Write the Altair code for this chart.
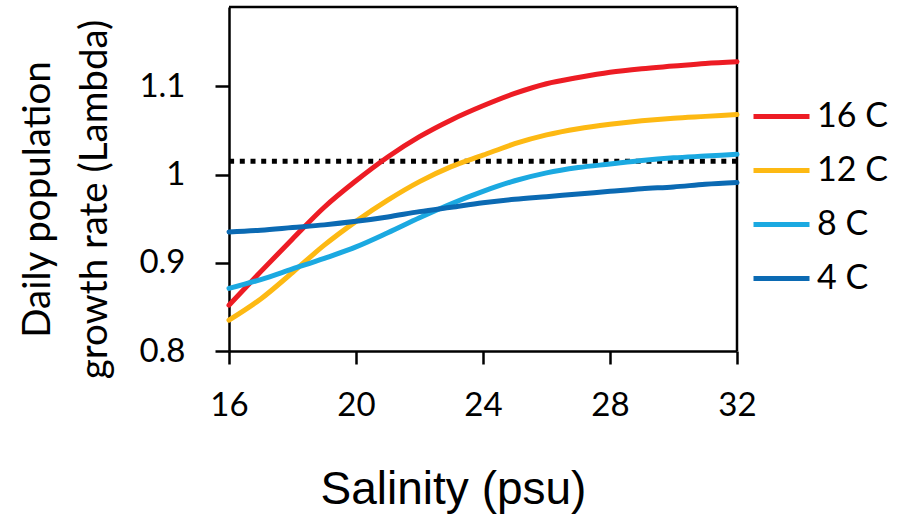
import altair as alt
import pandas as pd

salinity = list(range(16, 33))
temps = ["16 C", "12 C", "8 C", "4 C"]
colors = ["#ED1C24", "#FDB913", "#1BA9E1", "#0B6AB3"]

lam_16 = [0.852, 0.890, 0.927, 0.963, 0.993, 1.020, 1.043, 1.062, 1.078, 1.092,
          1.103, 1.110, 1.116, 1.120, 1.123, 1.126, 1.128]
lam_12 = [0.835, 0.859, 0.889, 0.920, 0.947, 0.971, 0.992, 1.009, 1.022, 1.035,
          1.045, 1.052, 1.057, 1.061, 1.064, 1.066, 1.068]
lam_8 = [0.871, 0.881, 0.893, 0.905, 0.918, 0.934, 0.951, 0.967, 0.981, 0.993,
         1.002, 1.008, 1.012, 1.016, 1.019, 1.021, 1.023]
lam_4 = [0.935, 0.937, 0.940, 0.943, 0.947, 0.952, 0.958, 0.963, 0.968, 0.972,
         0.975, 0.978, 0.981, 0.984, 0.986, 0.989, 0.991]
threshold = 1.015

x_domain = [16, 32]
y_domain = [0.8, 1.19]
x_ticks = [16, 20, 24, 28, 32]
y_ticks = [0.8, 0.9, 1.0, 1.1]

rows = []
for t, vals in zip(temps, [lam_16, lam_12, lam_8, lam_4]):
    for s, v in zip(salinity, vals):
        rows.append({"Salinity": s, "Lambda": v, "Temp": t})
df = pd.DataFrame(rows)

x_scale = alt.Scale(domain=x_domain, nice=False, zero=False)
y_scale = alt.Scale(domain=y_domain, nice=False, zero=False)

x_enc = alt.X("Salinity:Q", scale=x_scale,
              axis=alt.Axis(values=x_ticks, title="Salinity (psu)", grid=False,
                            domainColor="black", domainWidth=2.5, tickColor="black",
                            tickWidth=2.5, tickSize=13, labelFont="Lato", labelFontSize=33,
                            labelColor="black", labelBaseline="alphabetic", labelPadding=51,
                            labelFlush=False, labelOverlap=False,
                            titleFont="Liberation Sans", titleFontSize=46,
                            titleFontWeight="normal", titleColor="black",
                            titleX=224, titleY=152, titleBaseline="alphabetic",
                            titleAlign="center", titleAnchor="start"))
y_enc = alt.Y("Lambda:Q", scale=y_scale,
              axis=alt.Axis(values=y_ticks, format="~g",
                            title=["Daily population", "growth rate (Lambda)"],
                            grid=False, domainColor="black", domainWidth=2.5,
                            tickColor="black", tickWidth=2.5, tickSize=14,
                            labelFont="Lato", labelFontSize=33, labelColor="black",
                            labelPadding=30, labelFlush=False, labelOverlap=False,
                            titleFont="Lato", titleFontSize=38.5, titleFontWeight="normal",
                            titleColor="black", titleAngle=-90, titleX=-180, titleY=192,
                            titleBaseline="alphabetic", titleAlign="center",
                            titleAnchor="start", titleLineHeight=57))

lines = alt.Chart(df).mark_line(strokeWidth=5, strokeCap="round", interpolate="monotone").encode(
    x=x_enc,
    y=y_enc,
    color=alt.Color("Temp:N", scale=alt.Scale(domain=temps, range=colors),
                    legend=alt.Legend(title=None, orient="none", legendX=522, legendY=79,
                                      symbolType="stroke", symbolSize=3136,
                                      symbolStrokeWidth=5, labelFont="Lato",
                                      labelFontSize=34, labelColor="black",
                                      labelOffset=5, rowPadding=6, padding=0)),
    detail="Temp:N",
)

dotted = alt.Chart(pd.DataFrame({"y": [threshold]})).mark_rule(
    color="black", strokeWidth=5, strokeDash=[5, 5.7]
).encode(y=alt.Y("y:Q", scale=y_scale))

frame_top = alt.Chart().mark_rule(color="black", strokeWidth=2.5).encode(
    y=alt.datum(y_domain[1], scale=y_scale))
frame_right = alt.Chart().mark_rule(color="black", strokeWidth=2.5).encode(
    x=alt.datum(x_domain[1], scale=x_scale))

chart = alt.layer(frame_top, frame_right, dotted, lines).properties(
    width=508, height=344,
    autosize=alt.AutoSizeParams(type="none"),
    padding={"left": 229, "top": 7, "right": 161, "bottom": 168},
    background="white",
).configure_view(stroke=None)

chart.save("out.html", embed_options={"renderer": "svg", "actions": False})
